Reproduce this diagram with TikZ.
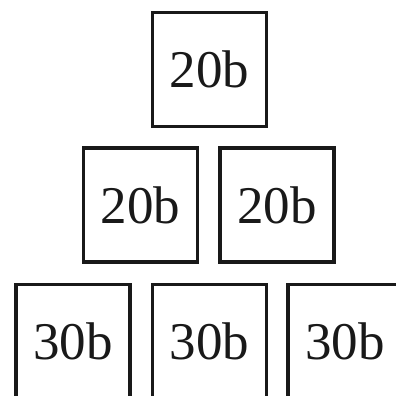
\documentclass[tikz,border=0pt]{standalone}
\usepackage{fontspec}
\setmainfont{Liberation Serif}
\begin{document}
\begin{tikzpicture}[x=1pt,y=-1pt,
  cell/.style={draw=black!90, line width=3.2pt, minimum width=114pt, minimum height=114pt, inner sep=0pt, font=\fontsize{53}{60}\selectfont, text=black!90}]
\useasboundingbox (0,0) rectangle (396,396);
\clip (0,0) rectangle (396,396);
\node[cell] (t) at (209.5,69.5) {20b};
\node[cell] (m1) at (140.5,205) {20b};
\node[cell] (m2) at (277,205) {20b};
\node[cell] (b1) at (73,341.5) {30b};
\node[cell] (b2) at (209.5,341.5) {30b};
\node[cell] (b3) at (345,341.5) {30b};
\end{tikzpicture}
\end{document}
